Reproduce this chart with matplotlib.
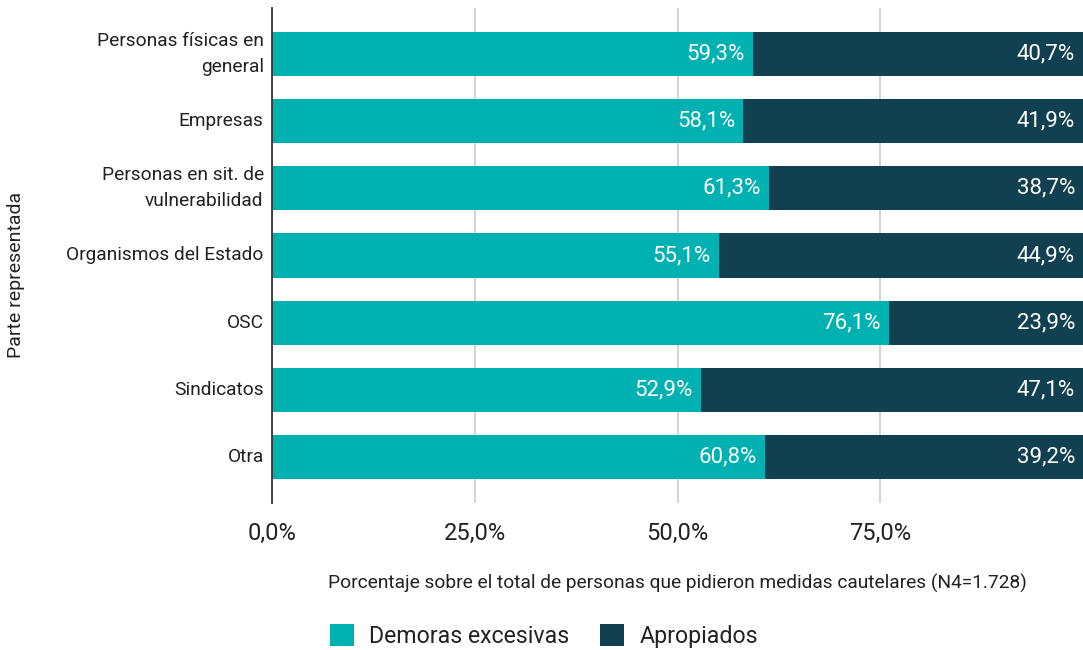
import matplotlib
matplotlib.use("Agg")
import matplotlib.pyplot as plt
from matplotlib.patches import Patch

plt.rcParams['font.family'] = ['Roboto', 'DejaVu Sans']

categories = ["Personas físicas en\ngeneral", "Empresas", "Personas en sit. de\nvulnerabilidad",
              "Organismos del Estado", "OSC", "Sindicatos", "Otra"]
demoras = [59.3, 58.1, 61.3, 55.1, 76.1, 52.9, 60.8]
apropiados = [40.7, 41.9, 38.7, 44.9, 23.9, 47.1, 39.2]
series_names = ["Demoras excesivas", "Apropiados"]
xticks = [0, 25, 50, 75]
xtick_labels = ["0,0%", "25,0%", "50,0%", "75,0%"]

c1 = "#00B1B1"
c2 = "#114150"
tc = "#222222"

fig = plt.figure(figsize=(10.83, 6.5), dpi=100)
ax = fig.add_axes([272/1083, (650-503)/650, 1 - 272/1083, 495/650])

y = list(range(len(categories)))
h = 0.66
ax.barh(y, demoras, height=h, color=c1, zorder=3)
ax.barh(y, apropiados, left=demoras, height=h, color=c2, zorder=3)

for i, (d, a) in enumerate(zip(demoras, apropiados)):
    ax.text(d - 1.0, i, f"{d:.1f}%".replace(".", ","), ha="right", va="center",
            color="white", fontsize=16, zorder=4)
    ax.text(d + a - 1.0, i, f"{a:.1f}%".replace(".", ","), ha="right", va="center",
            color="white", fontsize=16, zorder=4)

ax.set_xlim(0, 100)
ax.set_ylim(len(categories) - 1 + 0.68, -0.68)
ax.set_xticks(xticks)
ax.set_xticklabels(xtick_labels, fontsize=17, color=tc)
ax.set_yticks(y)
ax.set_yticklabels(categories, fontsize=13.8, color=tc, ha="right", va="center", linespacing=1.6)
ax.tick_params(axis="both", length=0)
ax.tick_params(axis="x", pad=14)
ax.tick_params(axis="y", pad=6)
ax.grid(axis="x", color="#cccccc", linewidth=1.2, zorder=0)
for s in ["top", "right", "bottom"]:
    ax.spines[s].set_visible(False)
ax.spines["left"].set_color("#333333")
ax.spines["left"].set_linewidth(1.3)
ax.spines["left"].set_zorder(5)

fig.text(677.5/1083, (650-583)/650, "Porcentaje sobre el total de personas que pidieron medidas cautelares (N4=1.728)",
         ha="center", va="center", fontsize=13.8, color=tc)
fig.text(16/1083, (650-275)/650, "Parte representada", rotation=90, ha="center", va="center",
         fontsize=14, color=tc)

handles = [Patch(facecolor=c1, label=series_names[0]), Patch(facecolor=c2, label=series_names[1])]
fig.legend(handles=handles, loc="center", bbox_to_anchor=(544/1083, (650-636)/650), ncol=2,
           frameon=False, fontsize=16.7, handlelength=1.05, handleheight=1.05, columnspacing=1.3,
           handletextpad=0.65, labelcolor=tc)

fig.savefig("out.png", dpi=100)
